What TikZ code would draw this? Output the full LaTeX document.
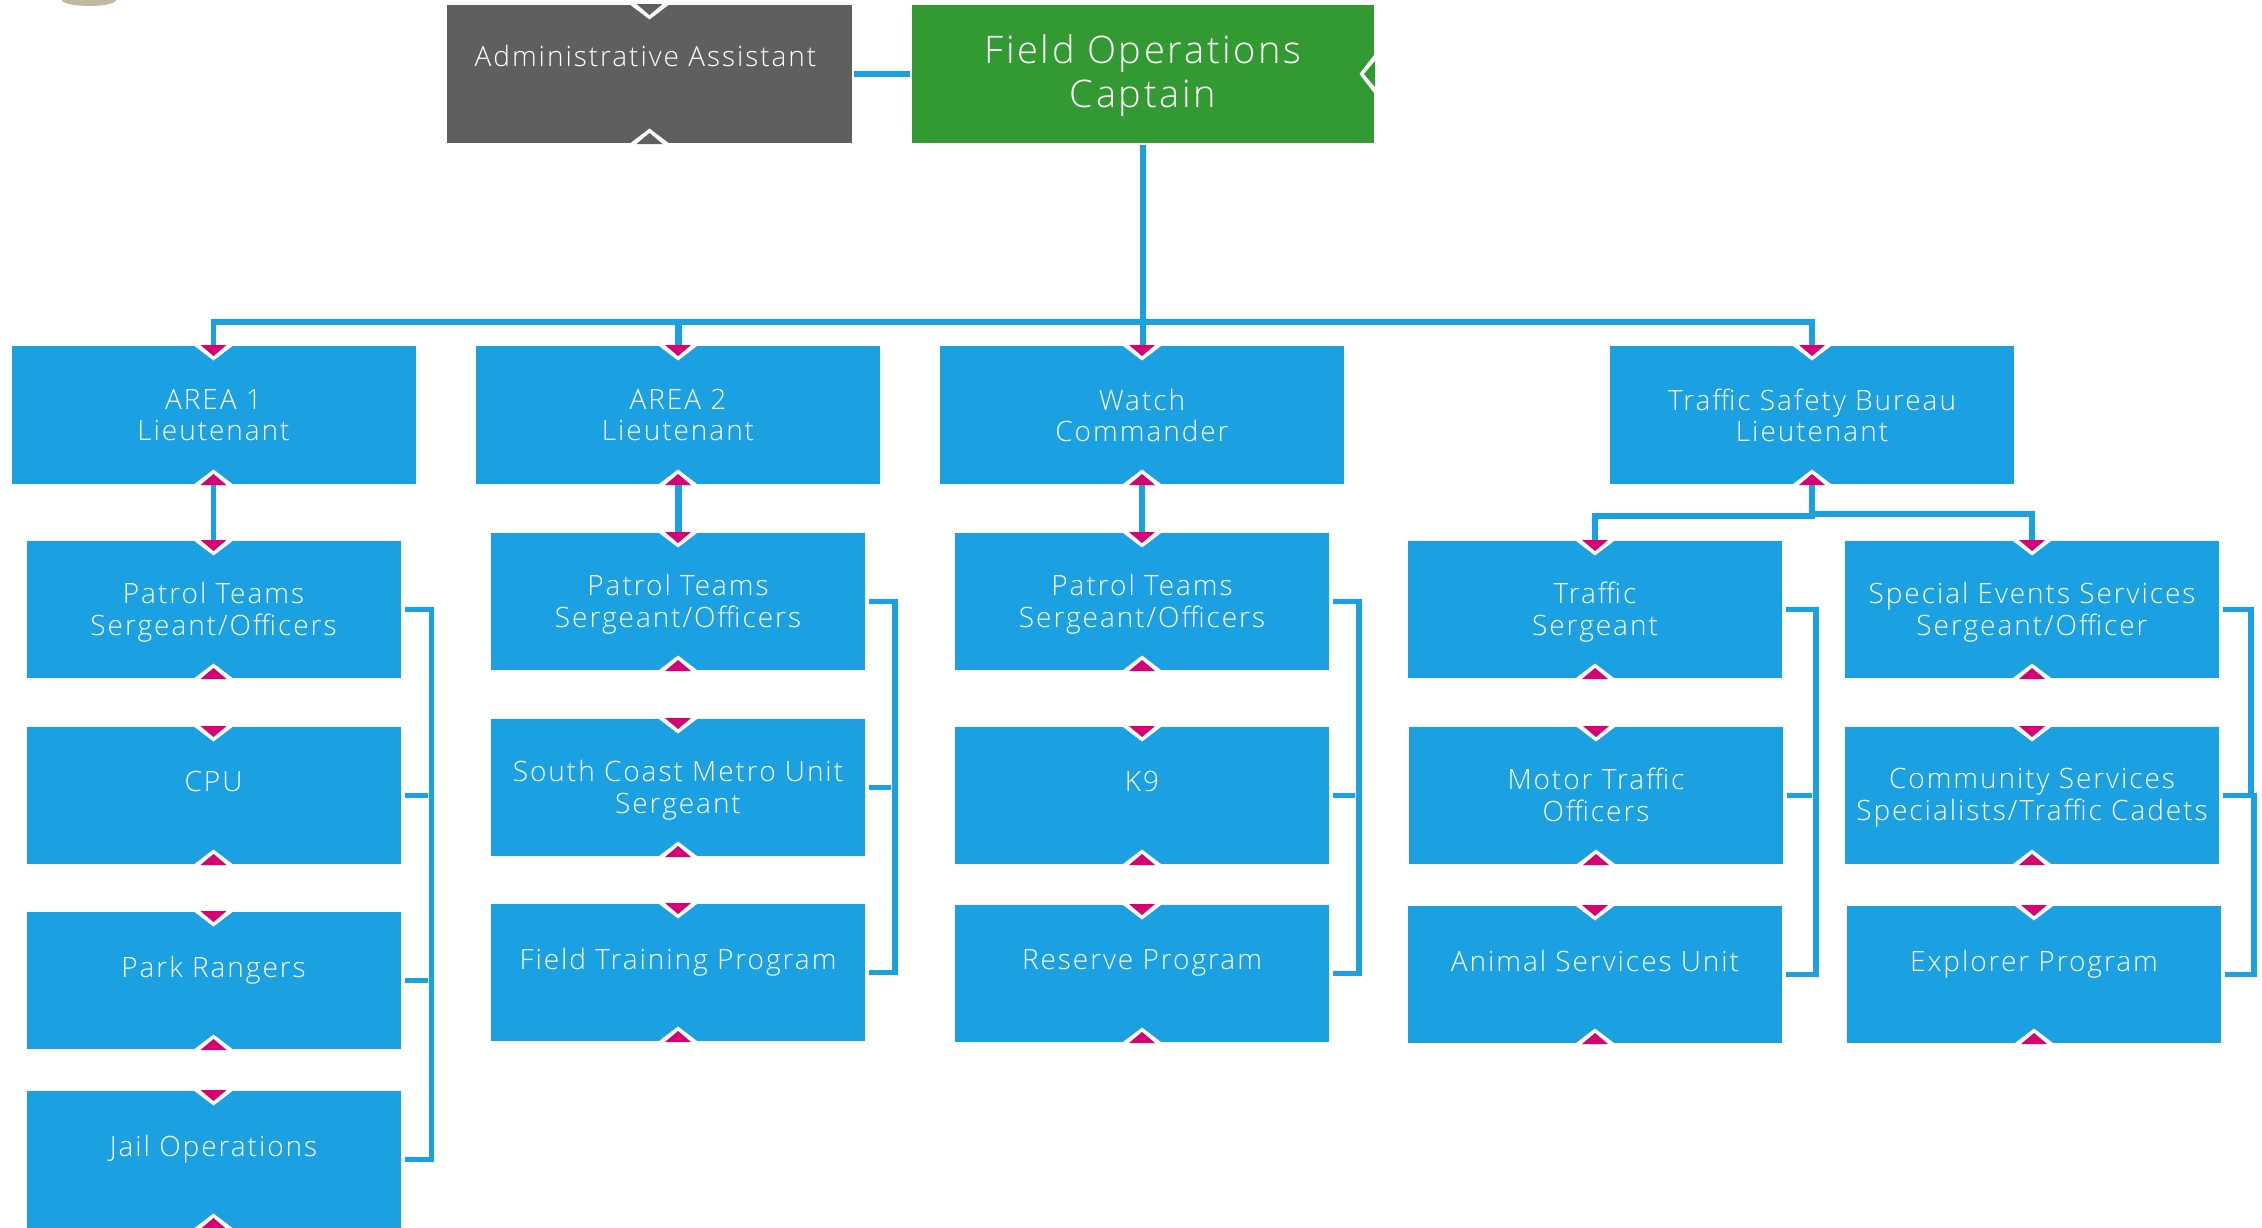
\documentclass[tikz,border=0pt]{standalone}
\usepackage{fontspec}
\setmainfont{Open Sans Light}[LetterSpace=7]
\usetikzlibrary{positioning}
\definecolor{boxblue}{HTML}{1BA1E2}
\definecolor{boxgreen}{HTML}{339933}
\definecolor{boxgray}{HTML}{5F5F5F}
\definecolor{tipmagenta}{HTML}{D80073}
\tikzset{
	basebox/.style={fill=#1, text=white, align=center, inner sep=0pt, outer sep=0pt},
	topbox/.style={basebox=boxblue, minimum width=202pt, minimum height=69pt, font=\fontsize{14}{15.5}\selectfont},
	subbox/.style={basebox=boxblue, minimum width=187pt, minimum height=68.5pt, text depth=1pt, font=\fontsize{14}{16}\selectfont},
	link/.style={draw=boxblue, line width=2.8pt},
	fatlink/.style={link, line width=3.5pt},
	bracket/.style={link, shorten <=2pt, shorten >=2pt},
	pics/tipdown/.style={code={
		\fill[white] (-19,0) -- (0,14.5) -- (19,0) -- cycle;
		\fill[#1] (-13,-1) -- (0,10) -- (13,-1) -- cycle;
	}},
	pics/tipup/.style={code={
		\fill[white] (-19,0) -- (0,-14.5) -- (19,0) -- cycle;
		\fill[#1] (-13,1) -- (0,-10) -- (13,1) -- cycle;
	}},
}
\newcommand{\blankline}{\\[-3pt]\strut}
\begin{document}
\begin{tikzpicture}[x=0.5pt, y=-0.5pt]
	\useasboundingbox (0,0) rectangle (2262,1227);
	
	\fill[black!25!yellow!30!gray!70] (89,0) ellipse (27 and 6);
	
	\node[basebox=boxgray, minimum width=202.5pt, minimum height=69pt, font=\fontsize{14}{16}\selectfont] (admin) at (649.5,74) {Administrative Assistant\hspace*{4pt}\blankline};
	\node[basebox=boxgreen, minimum width=231pt, minimum height=69pt, text depth=3pt, font=\fontsize{19}{22}\selectfont] (captain) at (1143,74) {Field Operations\\Captain};
	
	\node[topbox] (area1) at (213.5,415) {AREA 1\\Lieutenant};
	\node[topbox, right=30.25pt of area1] (area2) {AREA 2\\Lieutenant};
	\node[topbox, right=30pt of area2] (watch) {Watch\\Commander};
	\node[topbox, right=133pt of watch] (safety) {Traffic Safety Bureau\\Lieutenant};
	
	\node[subbox, below=28.5pt of area1] (patrola) {Patrol Teams\\Sergeant/Officers};
	\node[subbox, below=24.5pt of patrola] (cpu) {CPU\blankline};
	\node[subbox, below=24pt of cpu] (rangers) {Park Rangers\blankline};
	\node[subbox, below=21pt of rangers] (jail) {Jail Operations\blankline};
	
	\node[subbox, below=24.5pt of area2] (patrolb) {Patrol Teams\\Sergeant/Officers};
	\node[subbox, below=24.5pt of patrolb] (metro) {South Coast Metro Unit\\Sergeant};
	\node[subbox, below=24pt of metro] (training) {Field Training Program\blankline};
	
	\node[subbox, below=24.5pt of watch] (patrolc) {Patrol Teams\\Sergeant/Officers};
	\node[subbox, below=28.5pt of patrolc] (canine) {K9\blankline};
	\node[subbox, below=20.5pt of canine] (reserve) {Reserve Program\blankline};
	
	\node[subbox] (traffic) at (1595,609.5) {Traffic\\Sergeant};
	\node[subbox, below=24.5pt of traffic, xshift=0.5pt] (motor) {Motor Traffic\\Officers};
	\node[subbox, below=21pt of motor, xshift=-0.5pt] (animal) {Animal Services Unit\blankline};
	
	\node[subbox, right=31.5pt of traffic] (special) {Special Events Services\\Sergeant/Officer};
	\node[subbox, below=24.5pt of special] (community) {Community Services\\Specialists/Traffic Cadets};
	\node[subbox, below=21pt of community, xshift=1pt] (explorer) {Explorer Program\blankline};
	
	\coordinate (bus) at (1143,322);
	\coordinate (fork) at (safety.south);
	
	\draw[link, shorten >=1pt, shorten <=1pt] (admin.east) -- (captain.west);
	\draw[link, shorten <=1pt] (captain.south) -- (captain.south |- watch.north);
	\draw[link] (area1.north) |- (bus) -| (safety.north);
	\draw[fatlink] (area2.north) -- (area2.north |- bus);
	\draw[link] (area1.south) -- (patrola.north);
	\draw[fatlink] (area2.south) -- (patrolb.north);
	\draw[link] (watch.south) -- (patrolc.north);
	\draw[link] (fork) -- ++(0,32) -| (traffic.north);
	\draw[link] (fork) -- ++(0,30) -| (special.north);
	
	\draw[bracket] (patrola.east) -- ++(31,0) |- (jail.east);
	\draw[bracket] (cpu.east) -- ++(31,0);
	\draw[bracket] (rangers.east) -- ++(31,0);
	
	\draw[bracket] (patrolb.east) -- ++(30,0) |- (training.east);
	\draw[bracket] (metro.east) -- ++(30,0);
	
	\draw[bracket] (patrolc.east) -- ++(30,0) |- (reserve.east);
	\draw[bracket] (canine.east) -- ++(30,0);
	
	\draw[bracket] (traffic.east) -- ++(34,0) |- (animal.east);
	\draw[bracket] (motor.east) -- ++(33,0);
	
	\draw[bracket] (special.east) -- ++(32,0) |- (community.east);
	\draw[bracket] (community.east) -- ++(35,0) |- (explorer.east);
	
	\foreach \b in {area1,area2,watch,safety,patrola,cpu,rangers,jail,patrolb,metro,training,patrolc,canine,reserve,traffic,motor,animal,special,community,explorer} {
		\pic at (\b.north) {tipdown=tipmagenta};
		\pic at (\b.south) {tipup=tipmagenta};
	}
	\pic at (admin.north) {tipdown=boxgray};
	\pic at (admin.south) {tipup=boxgray};
	\pic[rotate=-90] at (captain.east) {tipdown=boxgreen};
\end{tikzpicture}
\end{document}
